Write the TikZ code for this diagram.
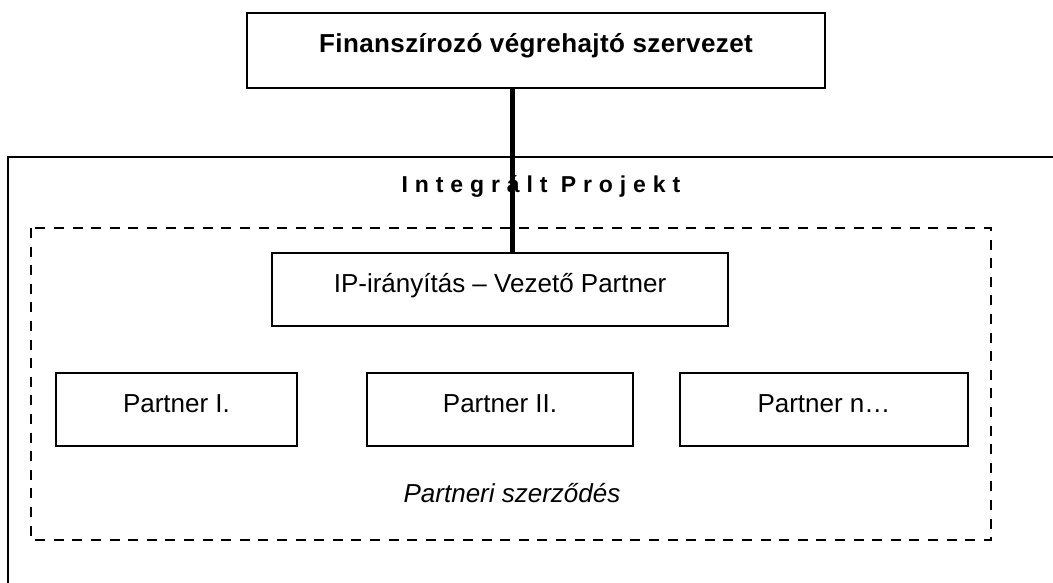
\documentclass[tikz,border=0pt]{standalone}
\usepackage{fontspec}
\setmainfont{Liberation Sans}
\begin{document}
\begin{tikzpicture}[x=1pt,y=-1pt,
  box/.style={draw, line width=2.6pt, minimum width=#1, minimum height=73pt,
    inner sep=0pt, font=\fontsize{26}{30}\selectfont,
    text height=19pt, text depth=14pt},
  frame/.style={line width=2.6pt},
  dashframe/.style={line width=2.6pt, dash pattern=on 10pt off 8.6pt},
  link/.style={line width=5pt},
  caption/.style={inner sep=0pt}]
  \useasboundingbox (0,0) rectangle (1053,583);
  % funding body
  \node[box=578pt, minimum height=75pt,
    font=\fontsize{26}{30}\selectfont\bfseries\addfontfeatures{LetterSpace=1.5}]
    (fund) at (536,50.5) {Finanszírozó végrehajtó szervezet};
  % integrated project frame, open to the right and below
  \draw[frame] (8,583) -- (8,157) -- (1053,157);
  \node[caption, font=\fontsize{23}{27}\selectfont\bfseries\addfontfeatures{LetterSpace=30}]
    (ipt) at (541,187) {Integrált Projekt};
  % partnership contract frame
  \draw[dashframe] (31,228) rectangle (991,540);
  \node[box=456pt] (lead) at (500,289.5) {IP-irányítás – Vezető Partner};
  \node[box=241pt] (p1) at (176.5,409.5) {Partner I.};
  \node[box=266pt] (p2) at (500,409.5) {Partner II.};
  \node[box=288pt] (pn) at (824,409.5) {Partner n…};
  \node[caption, font=\fontsize{26}{30}\selectfont\itshape]
    (contract) at (512,493) {Partneri szerződés};
  % link from funding body to lead partner
  \coordinate (lx) at (512,0);
  \draw[link] (fund.south -| lx) -- (lead.north -| lx);
\end{tikzpicture}
\end{document}
